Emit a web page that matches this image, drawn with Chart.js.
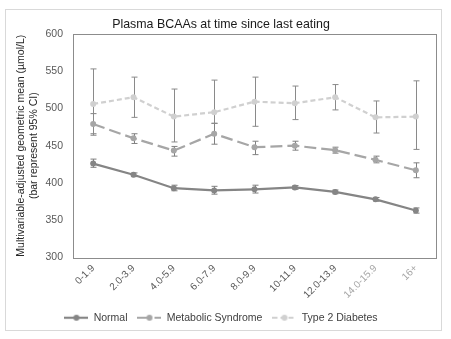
<!DOCTYPE html>
<html>
<head>
<meta charset="utf-8">
<script src="https://cdn.jsdelivr.net/npm/chart.js@4.4.1/dist/chart.umd.min.js"></script>
<style>
  html, body { margin: 0; padding: 0; background: #fff; }
  #frame { position: absolute; left: 5px; top: 9px; width: 435px; height: 320px; border: 1px solid #d9d9d9; }
  #plot { position: absolute; left: 6px; top: 10px; width: 435px; height: 324px; }
  canvas { display: block; }
</style>
</head>
<body>
<div id="frame"></div>
<div id="plot"><canvas id="bcaaChart"></canvas></div>
<script>
// Hours since last eating
const hours = ["0-1.9", "2.0-3.9", "4.0-5.9", "6.0-7.9", "8.0-9.9", "10-11.9", "12.0-13.9", "14.0-15.9", "16+"];

// Geometric means (µmol/L) with 95% CI bounds
const normal     = [426, 411, 393, 390, 391.5, 394, 388, 378, 363];
const normalLow  = [421, 408.5, 389.5, 385, 386.5, 391.5, 385.5, 375.5, 359.5];
const normalHigh = [432, 413.5, 397, 395.5, 397, 396.5, 390.5, 380.5, 366.5];

const metS     = [479, 460, 443.5, 466, 448, 450, 444, 431, 417];
const metSLow  = [466, 453, 436, 452, 438, 444, 440, 427, 407];
const metSHigh = [493, 466, 449, 480, 456, 456, 448, 436, 427];

const t2d     = [506, 515, 489, 495, 509, 507, 515, 488, 489];
const t2dLow  = [464, 488, 455, 480, 476, 485, 498, 467, 445];
const t2dHigh = [553, 542, 526, 538, 542, 530, 532, 510, 537];

const yTicks = [300, 350, 400, 450, 500, 550, 600];

const tickFont = { family: "'Liberation Sans', Arial, sans-serif", size: 10.5 };

// small line+dot swatch used as legend marker
function legendIcon(color, dash) {
  const c = document.createElement("canvas");
  c.width = 24;
  c.height = 8;
  const g = c.getContext("2d");
  g.strokeStyle = color;
  g.lineWidth = 2.2;
  g.setLineDash(dash);
  g.beginPath();
  g.moveTo(0, 4);
  g.lineTo(24, 4);
  g.stroke();
  g.fillStyle = color;
  g.beginPath();
  g.arc(12, 4, 3, 0, Math.PI * 2);
  g.fill();
  return c;
}

// CI whiskers behind the lines
const errorBars = {
  id: "errorBars",
  beforeDatasetsDraw(chart) {
    const { ctx, scales: { y } } = chart;
    chart.data.datasets.forEach((ds, i) => {
      const meta = chart.getDatasetMeta(i);
      ctx.save();
      ctx.strokeStyle = ds.errColor;
      ctx.lineWidth = 1;
      meta.data.forEach((pt, j) => {
        const x = Math.round(pt.x) + 0.5;
        const top = y.getPixelForValue(ds.errHigh[j]);
        const bot = y.getPixelForValue(ds.errLow[j]);
        ctx.beginPath();
        ctx.moveTo(x, top);
        ctx.lineTo(x, bot);
        ctx.moveTo(x - 3, top);
        ctx.lineTo(x + 3, top);
        ctx.moveTo(x - 3, bot);
        ctx.lineTo(x + 3, bot);
        ctx.stroke();
      });
      ctx.restore();
    });
  },
};

// gray frame round the plot area
const plotFrame = {
  id: "plotFrame",
  beforeDatasetsDraw(chart) {
    const { ctx, chartArea: a } = chart;
    ctx.save();
    ctx.strokeStyle = "#8c8c8c";
    ctx.lineWidth = 1;
    ctx.strokeRect(Math.round(a.left) + 0.5, Math.round(a.top) + 0.5, Math.round(a.width), Math.round(a.height));
    ctx.restore();
  },
};

const icons = [
  legendIcon("#858585", []),
  legendIcon("#a6a6a6", [12, 5]),
  legendIcon("#d0d0d0", [5, 3]),
];

new Chart(document.getElementById("bcaaChart"), {
  type: "line",
  data: {
    labels: hours,
    datasets: [
      {
        label: "Normal",
        data: normal,
        errLow: normalLow,
        errHigh: normalHigh,
        errColor: "#7f7f7f",
        borderColor: "#858585",
        backgroundColor: "#858585",
        borderWidth: 2.2,
        pointRadius: 3,
        pointBorderWidth: 0,
        tension: 0,
      },
      {
        label: "Metabolic Syndrome",
        data: metS,
        errLow: metSLow,
        errHigh: metSHigh,
        errColor: "#808080",
        borderColor: "#a6a6a6",
        backgroundColor: "#a6a6a6",
        borderWidth: 2.2,
        borderDash: [12, 5],
        pointRadius: 3,
        pointBorderWidth: 0,
        tension: 0,
      },
      {
        label: "Type 2 Diabetes",
        data: t2d,
        errLow: t2dLow,
        errHigh: t2dHigh,
        errColor: "#8a8a8a",
        borderColor: "#d0d0d0",
        backgroundColor: "#d0d0d0",
        borderWidth: 2.2,
        borderDash: [5, 3],
        pointRadius: 3,
        pointBorderWidth: 0,
        tension: 0,
      },
    ],
  },
  options: {
    animation: false,
    responsive: true,
    maintainAspectRatio: false,
    layout: { padding: { left: 0, right: 5, top: 0, bottom: 1 } },
    plugins: {
      title: {
        display: true,
        text: "Plasma BCAAs at time since last eating",
        color: "#1a1a1a",
        font: { family: "'Liberation Sans', Arial, sans-serif", size: 12.4, weight: "normal" },
        padding: { top: 7, bottom: 2 },
      },
      legend: {
        position: "bottom",
        labels: {
          usePointStyle: true,
          pointStyleWidth: 24,
          color: "#404040",
          font: tickFont,
          padding: 10,
          generateLabels(chart) {
            const items = Chart.defaults.plugins.legend.labels.generateLabels(chart);
            items.forEach((it) => (it.pointStyle = icons[it.datasetIndex]));
            return items;
          },
        },
      },
      tooltip: { enabled: false },
    },
    scales: {
      x: {
        offset: true,
        grid: { display: false, drawTicks: false },
        border: { display: false },
        ticks: {
          maxRotation: 45,
          minRotation: 45,
          padding: 5,
          font: { family: "'Liberation Sans', Arial, sans-serif", size: 10 },
          color: (c) => (c.index >= 7 ? "#a6a6a6" : "#595959"),
        },
        afterFit(scale) {
          scale.height = 45;
        },
      },
      y: {
        min: 300,
        max: 600,
        grid: { display: false, drawTicks: false },
        border: { display: false },
        afterBuildTicks(scale) {
          scale.ticks = yTicks.map((v) => ({ value: v }));
        },
        ticks: {
          padding: 10,
          font: tickFont,
          color: "#595959",
        },
        title: {
          display: true,
          text: ["Multivariable-adjusted geometric mean (\u00b5mol/L)", "(bar represent 95% CI)"],
          color: "#262626",
          font: tickFont,
          padding: { top: 9, bottom: 0 },
        },
        afterFit(scale) {
          scale.width = 67;
        },
      },
    },
  },
  plugins: [errorBars, plotFrame],
});
</script>
</body>
</html>
